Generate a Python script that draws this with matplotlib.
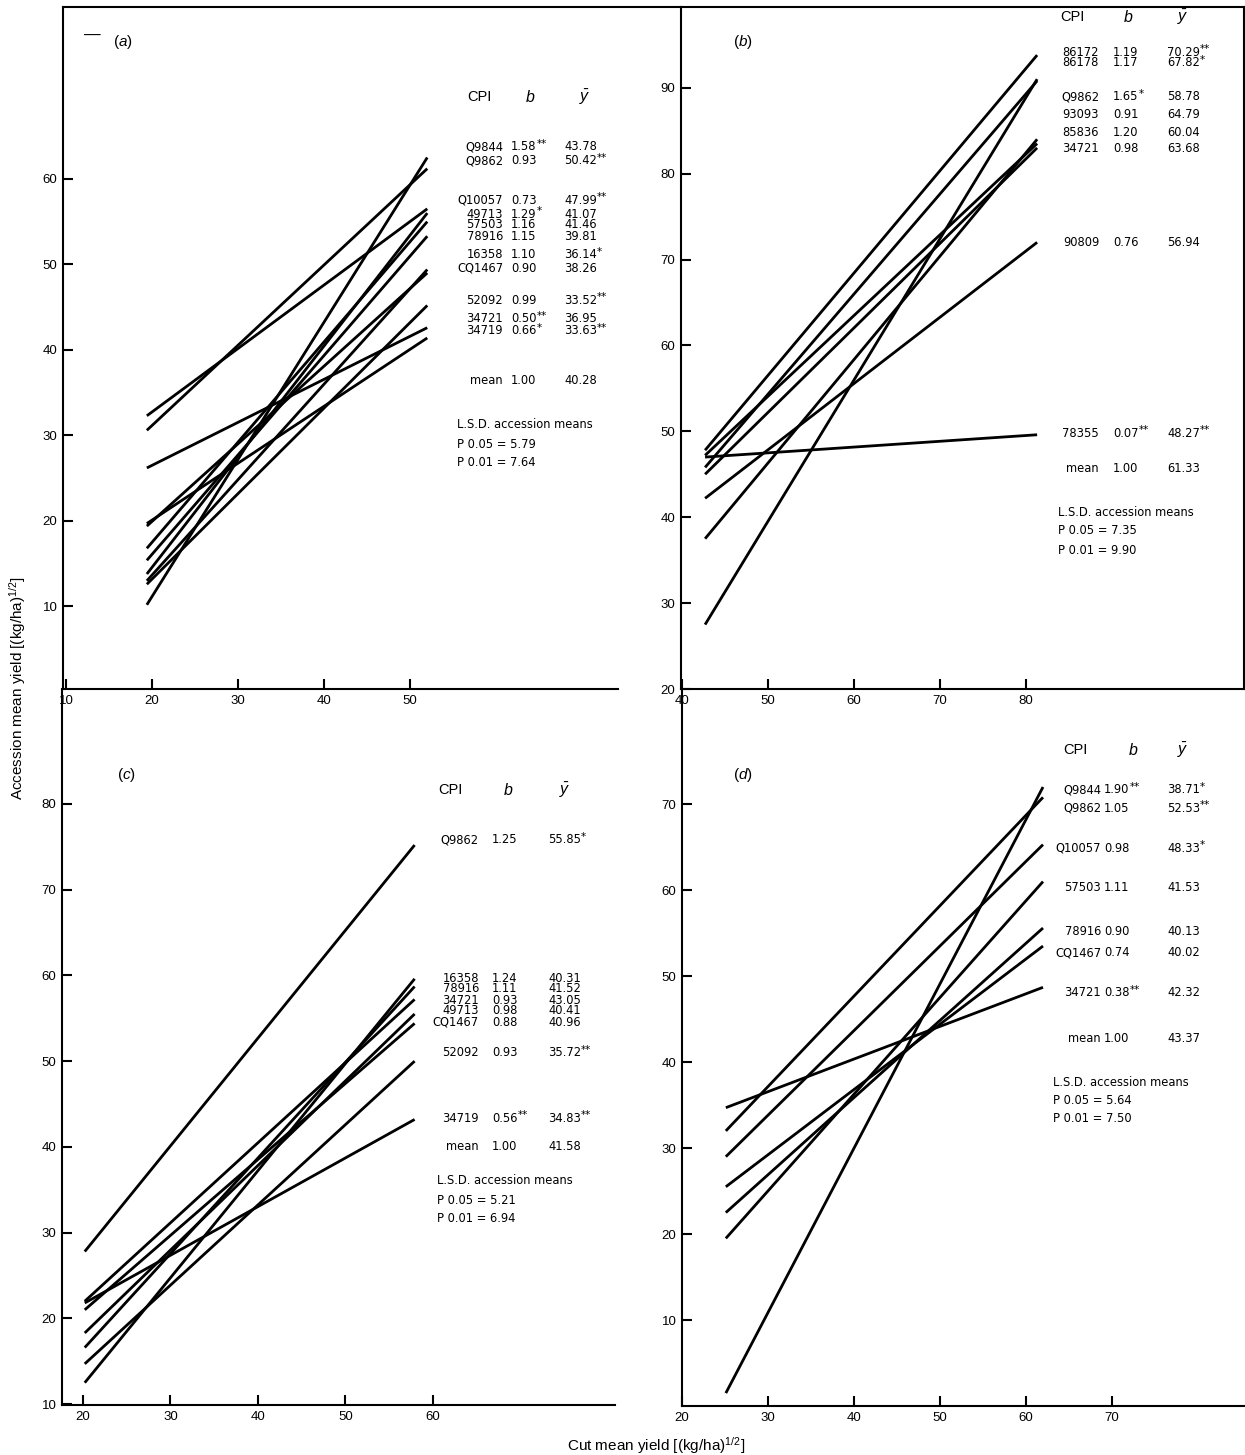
import matplotlib.pyplot as plt

plt.rcParams['font.family'] = ['Liberation Sans', 'DejaVu Sans']
plt.rcParams['mathtext.fontset'] = 'custom'
plt.rcParams['mathtext.rm'] = 'Liberation Sans'
plt.rcParams['mathtext.it'] = 'Liberation Sans:italic'

W, H = 1245, 1455

# ---------------- data ----------------
# panel (a)
a_cpi = ['Q9844', 'Q9862', 'Q10057', '49713', '57503', '78916', '16358', 'CQ1467', '52092', '34721', '34719']
a_b = ['1.58**', '0.93', '0.73', '1.29*', '1.16', '1.15', '1.10', '0.90', '0.99', '0.50**', '0.66*']
a_ybar = ['43.78', '50.42**', '47.99**', '41.07', '41.46', '39.81', '36.14*', '38.26', '33.52**', '36.95', '33.63**']
a_x = [19.4, 52.0]
a_start = [10.2, 30.6, 32.3, 13.8, 16.8, 15.4, 13.0, 19.4, 12.6, 26.2, 19.7]
a_end = [62.5, 61.2, 56.5, 56.0, 55.0, 53.3, 49.4, 49.0, 45.2, 42.6, 41.4]
a_mean = ['1.00', '40.28']
a_lsd = ['5.79', '7.64']

# panel (b)
b_cpi = ['86172', '86178', 'Q9862', '93093', '85836', '34721', '90809', '78355']
b_b = ['1.19', '1.17', '1.65*', '0.91', '1.20', '0.98', '0.76', '0.07**']
b_ybar = ['70.29**', '67.82*', '58.78', '64.79', '60.04', '63.68', '56.94', '48.27**']
b_x = [42.7, 81.3]
b_start = [47.8, 45.8, 27.5, 47.2, 37.5, 45.0, 42.2, 47.0]
b_end = [93.8, 90.8, 91.0, 83.5, 84.0, 83.0, 72.0, 49.6]
b_mean = ['1.00', '61.33']
b_lsd = ['7.35', '9.90']

# panel (c)
c_cpi = ['Q9862', '16358', '78916', '34721', '49713', 'CQ1467', '52092', '34719']
c_b = ['1.25', '1.24', '1.11', '0.93', '0.98', '0.88', '0.93', '0.56**']
c_ybar = ['55.85*', '40.31', '41.52', '43.05', '40.41', '40.96', '35.72**', '34.83**']
c_x = [20.2, 57.9]
c_start = [27.8, 12.5, 16.6, 22.0, 18.3, 21.0, 14.7, 21.8]
c_end = [75.2, 59.6, 58.7, 57.2, 55.5, 54.4, 50.0, 43.2]
c_mean = ['1.00', '41.58']
c_lsd = ['5.21', '6.94']

# panel (d)
d_cpi = ['Q9844', 'Q9862', 'Q10057', '57503', '78916', 'CQ1467', '34721']
d_b = ['1.90**', '1.05', '0.98', '1.11', '0.90', '0.74', '0.38**']
d_ybar = ['38.71*', '52.53**', '48.33*', '41.53', '40.13', '40.02', '42.32']
d_x = [25.1, 62.0]
d_start = [1.5, 32.0, 29.0, 19.5, 22.5, 25.5, 34.7]
d_end = [72.0, 70.8, 65.3, 61.0, 55.6, 53.5, 48.7]
d_mean = ['1.00', '43.37']
d_lsd = ['5.64', '7.50']

# ---------------- layout (pixels) ----------------
lay_a = dict(head_y=97, cpi_x=467, bh_x=530, yh_x=585, id_r=503, b_l=511, y_l=564,
             rows=[147, 161, 200, 214, 225, 236, 255, 268, 300, 319, 331],
             mean_y=381, lsd_x=457, lsd_y=[425, 444, 463])
lay_b = dict(head_y=17, cpi_x=1060, bh_x=1128, yh_x=1183, id_r=1099, b_l=1113, y_l=1167,
             rows=[52, 63, 97, 114, 133, 149, 243, 433],
             mean_y=469, lsd_x=1058, lsd_y=[512, 531, 550])
lay_c = dict(head_y=790, cpi_x=438, bh_x=508, yh_x=565, id_r=479, b_l=492, y_l=548,
             rows=[840, 978, 989, 1000, 1011, 1022, 1053, 1118],
             mean_y=1147, lsd_x=437, lsd_y=[1181, 1200, 1219])
lay_d = dict(head_y=750, cpi_x=1063, bh_x=1133, yh_x=1183, id_r=1101, b_l=1104, y_l=1167,
             rows=[790, 808, 848, 887, 932, 953, 993],
             mean_y=1038, lsd_x=1053, lsd_y=[1082, 1101, 1119])

fig = plt.figure(figsize=(W / 100, H / 100), dpi=100)


def px_axes(left, right, top, bottom):
    return fig.add_axes([left / W, 1 - bottom / H, (right - left) / W, (bottom - top) / H])


def ftext(x, y, s, **kw):
    kw.setdefault('va', 'center')
    return fig.text(x / W, 1 - y / H, s, **kw)


def style_axes(ax, xlim, ylim, xticks, yticks, top=False, right=False, xbound=None):
    ax.set_xlim(*xlim)
    ax.set_ylim(*ylim)
    ax.set_xticks(xticks)
    ax.set_yticks(yticks)
    ax.set_xticklabels([str(v) for v in xticks])
    ax.set_yticklabels([str(v) for v in yticks])
    for side in ['left', 'bottom', 'top', 'right']:
        ax.spines[side].set_linewidth(1.5)
    ax.spines['top'].set_visible(top)
    ax.spines['right'].set_visible(right)
    if xbound is not None:
        ax.spines['bottom'].set_bounds(*xbound)
    ax.tick_params(direction='in', length=7, width=1.5, pad=4, labelsize=9.5)
    ax.patch.set_alpha(0)


def draw_lines(ax, x, starts, ends):
    for y0, y1 in zip(starts, ends):
        ax.plot(x, [y0, y1], color='black', lw=2.0, solid_capstyle='butt')


tab_font = dict(family='DejaVu Sans', fontsize=8.3)


def cell(ax, x, y, s, **kw):
    # significance stars are set raised and smaller, as in the printed table
    stars = s[len(s.rstrip('*')):]
    t = ftext(x, y, s.rstrip('*'), **tab_font, **kw)
    if stars:
        ax.annotate(stars, xy=(1.0, 0.35), xycoords=t, fontsize=7.5, family='DejaVu Sans',
                    va='bottom', ha='left', annotation_clip=False)


def draw_table(ax, cpi, bs, ybars, mean, lsd, lay):
    ftext(lay['cpi_x'], lay['head_y'], 'CPI', fontsize=10.5)
    ftext(lay['bh_x'], lay['head_y'], '$b$', fontsize=11.5, ha='center')
    ftext(lay['yh_x'], lay['head_y'], r'$\bar{y}$', fontsize=11.5, ha='center')
    for ry, c, b, yb in zip(lay['rows'], cpi, bs, ybars):
        cell(ax, lay['id_r'], ry, c, ha='right')
        cell(ax, lay['b_l'], ry, b)
        cell(ax, lay['y_l'], ry, yb)
    cell(ax, lay['id_r'], lay['mean_y'], 'mean', ha='right')
    cell(ax, lay['b_l'], lay['mean_y'], mean[0])
    cell(ax, lay['y_l'], lay['mean_y'], mean[1])
    cell(ax, lay['lsd_x'], lay['lsd_y'][0], 'L.S.D. accession means')
    cell(ax, lay['lsd_x'], lay['lsd_y'][1], 'P 0.05 = ' + lsd[0])
    cell(ax, lay['lsd_x'], lay['lsd_y'][2], 'P 0.01 = ' + lsd[1])


# panel (a)
ax_a = px_axes(63, 681, 7, 689)
style_axes(ax_a, (9.65, 81.5), (0.35, 80.1), [10, 20, 30, 40, 50], [10, 20, 30, 40, 50, 60],
           top=True, xbound=(9.65, 74.2))
draw_lines(ax_a, a_x, a_start, a_end)
draw_table(ax_a, a_cpi, a_b, a_ybar, a_mean, a_lsd, lay_a)

# panel (b)
ax_b = px_axes(681, 1244, 7, 689)
style_axes(ax_b, (39.9, 105.35), (20, 99.4), [40, 50, 60, 70, 80], [20, 30, 40, 50, 60, 70, 80, 90],
           top=True, right=True)
draw_lines(ax_b, b_x, b_start, b_end)
draw_table(ax_b, b_cpi, b_b, b_ybar, b_mean, b_lsd, lay_b)

# panel (c)
ax_c = px_axes(62, 682, 689, 1405)
style_axes(ax_c, (17.6, 88.46), (9.9, 93.4), [20, 30, 40, 50, 60], [10, 20, 30, 40, 50, 60, 70, 80],
           xbound=(17.6, 80.8))
draw_lines(ax_c, c_x, c_start, c_end)
draw_table(ax_c, c_cpi, c_b, c_ybar, c_mean, c_lsd, lay_c)

# panel (d)
ax_d = px_axes(682, 1245, 689, 1406)
style_axes(ax_d, (20, 85.5), (0, 83.4), [20, 30, 40, 50, 60, 70], [10, 20, 30, 40, 50, 60, 70])
draw_lines(ax_d, d_x, d_start, d_end)
draw_table(ax_d, d_cpi, d_b, d_ybar, d_mean, d_lsd, lay_d)

# panel letters
ftext(84, 35, '\u2014', fontsize=12)
ftext(113, 42, '($a$)', fontsize=11)
ftext(733, 42, '($b$)', fontsize=11)
ftext(117, 775, '($c$)', fontsize=11)
ftext(733, 775, '($d$)', fontsize=11)

# axis titles
ftext(18, 688, 'Accession mean yield [(kg/ha)$^{1/2}$]', rotation=90, ha='center', fontsize=11)
ftext(656, 1446, 'Cut mean yield [(kg/ha)$^{1/2}$]', ha='center', fontsize=11)

fig.savefig('out.png', dpi=100)
